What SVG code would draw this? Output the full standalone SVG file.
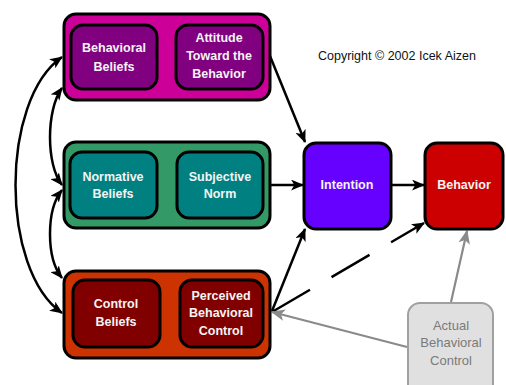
<svg xmlns="http://www.w3.org/2000/svg" width="506" height="385" viewBox="0 0 506 385">
<style>
.outer{stroke:#000;stroke-width:3}
.inner{stroke:#000;stroke-width:3}
.t{font-family:"Liberation Sans",Arial,sans-serif;font-size:12.5px;font-weight:bold;fill:#f4f4f4;text-anchor:middle}
.tg{font-family:"Liberation Sans",Arial,sans-serif;font-size:13px;fill:#7a7a7a;text-anchor:middle}
.cp{font-family:"Liberation Sans",Arial,sans-serif;font-size:12.5px;fill:#111}
.c{fill:none;stroke:#000;stroke-width:2.5}
.g{fill:none;stroke:#8a8a8a;stroke-width:2.2}
</style>
<defs>
<marker id="ah" viewBox="0 0 12 10" refX="11" refY="5" markerWidth="13" markerHeight="11" markerUnits="userSpaceOnUse" orient="auto-start-reverse"><path d="M0,0 L12,5 L0,10 L3,5 z" fill="#000"/></marker>
<marker id="ahg" viewBox="0 0 12 10" refX="11" refY="5" markerWidth="14" markerHeight="12" markerUnits="userSpaceOnUse" orient="auto"><path d="M0,0 L12,5 L0,10 L3,5 z" fill="#8a8a8a"/></marker>
</defs>
<rect width="506" height="385" fill="#fff"/>
<g id="connectors">
<path class="c" d="M62,57 C0,100 0,270 62,313" marker-start="url(#ah)" marker-end="url(#ah)"/>
<path class="c" d="M62,88 C46,110 46,165 62,185" marker-start="url(#ah)" marker-end="url(#ah)"/>
<path class="c" d="M62,190 C46,210 46,258 62,278" marker-start="url(#ah)" marker-end="url(#ah)"/>
<path class="c" d="M158,62 L176,62" marker-end="url(#ah)"/>
<path class="c" d="M158,185 L177,185" marker-end="url(#ah)"/>
<path class="c" d="M161,312 L180,312" marker-end="url(#ah)"/>
<path class="c" d="M270,56 L305,142" marker-end="url(#ah)"/>
<path class="c" d="M271,185 L303,185" marker-end="url(#ah)"/>
<path class="c" d="M272,311 L305,229" marker-end="url(#ah)"/>
<path class="c" d="M392,185 L424,185" marker-end="url(#ah)"/>
<path class="c" d="M272,312 L424,223" stroke-dasharray="44 25" marker-end="url(#ah)"/>
<path class="g" d="M407,347 L272,312" marker-end="url(#ahg)"/>
<path class="g" d="M451,302 L467,231" marker-end="url(#ahg)"/>
</g>
<g id="attitude-group">
<rect class="outer" x="64" y="14" width="206" height="86" rx="12" fill="#cc0099"/>
</g>
<g id="behavioral-beliefs">
<rect class="inner" x="71" y="25" width="86" height="64" rx="12" fill="#800080"/>
<text class="t" x="114" y="52">Behavioral</text>
<text class="t" x="114" y="71">Beliefs</text>
</g>
<g id="attitude">
<rect class="inner" x="176" y="25" width="87" height="64" rx="12" fill="#800080"/>
<text class="t" x="219" y="42">Attitude</text>
<text class="t" x="219" y="60">Toward the</text>
<text class="t" x="219" y="78">Behavior</text>
</g>
<g id="norm-group">
<rect class="outer" x="64" y="142" width="206" height="86" rx="12" fill="#339966"/>
</g>
<g id="normative-beliefs">
<rect class="inner" x="70" y="152" width="87" height="66" rx="12" fill="#008080"/>
<text class="t" x="113" y="181">Normative</text>
<text class="t" x="113" y="198">Beliefs</text>
</g>
<g id="subjective-norm">
<rect class="inner" x="177" y="152" width="86" height="66" rx="12" fill="#008080"/>
<text class="t" x="220" y="181">Subjective</text>
<text class="t" x="220" y="198">Norm</text>
</g>
<g id="control-group">
<rect class="outer" x="64" y="271" width="206" height="87" rx="12" fill="#cc3300"/>
</g>
<g id="control-beliefs">
<rect class="inner" x="73" y="280" width="87" height="67" rx="12" fill="#800000"/>
<text class="t" x="116" y="308">Control</text>
<text class="t" x="116" y="326">Beliefs</text>
</g>
<g id="pbc">
<rect class="inner" x="180" y="280" width="83" height="67" rx="12" fill="#800000"/>
<text class="t" x="221" y="300">Perceived</text>
<text class="t" x="221" y="317">Behavioral</text>
<text class="t" x="221" y="335">Control</text>
</g>
<g id="intention">
<rect class="inner" x="304" y="143" width="87" height="86" rx="12" fill="#6600ff"/>
<text class="t" x="347" y="189">Intention</text>
</g>
<g id="behavior">
<rect class="inner" x="425" y="143" width="78" height="86" rx="12" fill="#cc0000"/>
<text class="t" x="464" y="189">Behavior</text>
</g>
<g id="actual-control">
<rect x="408" y="303" width="85" height="95" rx="12" fill="#e0e0e0" stroke="#a0a0a0" stroke-width="2"/>
<text class="tg" x="451" y="330">Actual</text>
<text class="tg" x="451" y="347">Behavioral</text>
<text class="tg" x="451" y="365">Control</text>
</g>
<text class="cp" x="318" y="60">Copyright © 2002 Icek Aizen</text>
</svg>
